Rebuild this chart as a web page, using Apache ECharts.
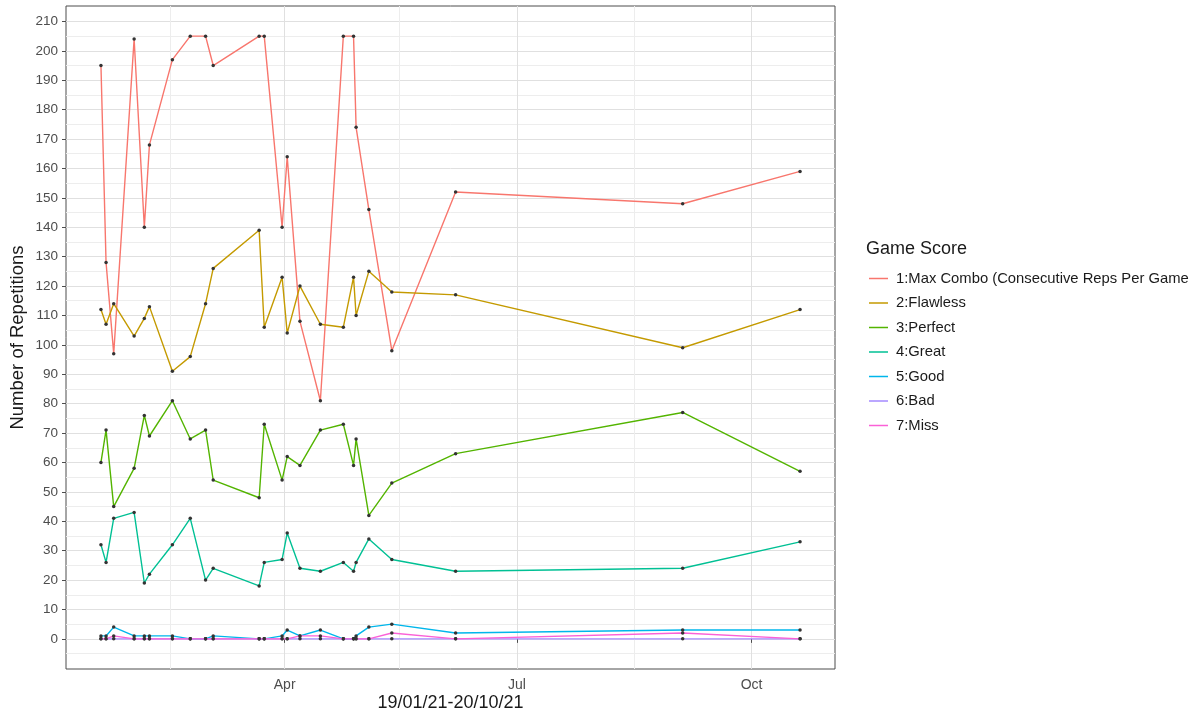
<!DOCTYPE html>
<html>
<head>
<meta charset="utf-8">
<script src="https://cdn.jsdelivr.net/npm/echarts@6/dist/echarts.min.js"></script>
<style>
  html, body { margin: 0; padding: 0; background: #ffffff; }
  #chart { width: 1198px; height: 715px; }
</style>
</head>
<body>
<div id="chart"></div>
<script>
// ---- data ----
const dates = ['2021-01-19','2021-01-21','2021-01-24','2021-02-01','2021-02-05','2021-02-07',
  '2021-02-16','2021-02-23','2021-03-01','2021-03-04','2021-03-22','2021-03-24','2021-03-31',
  '2021-04-02','2021-04-07','2021-04-15','2021-04-24','2021-04-28','2021-04-29','2021-05-04',
  '2021-05-13','2021-06-07','2021-09-04','2021-10-20'];
const maxCombo = [195,128,97,204,140,168,197,205,205,195,205,205,140,164,108,81,205,205,174,146,98,152,148,159];
const flawless = [112,107,114,103,109,113,91,96,114,126,139,106,123,104,120,107,106,123,110,125,118,117,99,112];
const perfect  = [60,71,45,58,76,69,81,68,71,54,48,73,54,62,59,71,73,59,68,42,53,63,77,57];
const great    = [32,26,41,43,19,22,32,41,20,24,18,26,27,36,24,23,26,23,26,34,27,23,24,33];
const good     = [1,1,4,1,1,1,1,0,0,1,0,0,1,3,1,3,0,0,1,4,5,2,3,3];
const bad      = [0,0,0,0,0,0,0,0,0,0,0,0,0,0,0,0,0,0,0,0,0,0,0,0];
const miss     = [0,0,1,0,0,0,0,0,0,0,0,0,0,0,1,1,0,0,0,0,2,0,2,0];
const seriesNames = ['1:Max Combo (Consecutive Reps Per Game','2:Flawless','3:Perfect','4:Great','5:Good','6:Bad','7:Miss'];
const seriesValues = [maxCombo, flawless, perfect, great, good, bad, miss];
const xTickDates  = ['2021-04-01','2021-07-01','2021-10-01'];
const xTickLabels = ['Apr','Jul','Oct'];
const xMinorDates = ['2021-02-15','2021-05-16','2021-08-16'];
const yTicks = [0,10,20,30,40,50,60,70,80,90,100,110,120,130,140,150,160,170,180,190,200,210];
const colors = ['#F8766D','#C49A00','#53B400','#00C094','#00B6EB','#A58AFF','#FB61D7'];

// ---- helpers ----
const DAY = 86400000;
function t(s) { const p = s.split('-').map(Number); return Date.UTC(p[0], p[1]-1, p[2]) / DAY; }
const times = dates.map(t);
const tMin = Math.min(...times), tMax = Math.max(...times);
const tPad = (tMax - tMin) * 0.05;
const allVals = seriesValues.flat();
const vMin = Math.min(...allVals), vMax = Math.max(...allVals);
const vPad = (vMax - vMin) * 0.05;
const xTickTimes = xTickDates.map(t);
const xMinorTimes = xMinorDates.map(t);
const yMinor = yTicks.map(v => v - 5);

const font = '"Liberation Sans", Arial, sans-serif';
const chart = echarts.init(document.getElementById('chart'), null, {renderer: 'canvas'});

const option = {
  animation: false,
  backgroundColor: '#ffffff',
  title: {
    text: 'Game Score',
    left: 861, top: 235,
    textStyle: { fontFamily: font, fontSize: 18, fontWeight: 'normal', color: '#1a1a1a' }
  },
  legend: {
    orient: 'vertical',
    left: 864, top: 266,
    icon: 'rect',
    itemWidth: 19, itemHeight: 1.5,
    itemGap: 9.5,
    selectedMode: false,
    textStyle: { fontFamily: font, fontSize: 14.8, color: '#1a1a1a', lineHeight: 15, padding: [0,0,0,3] },
    data: seriesNames.map((n, i) => ({ name: n, itemStyle: { color: colors[i] } }))
  },
  grid: {
    left: 66, right: 363, top: 6, bottom: 46,
    containLabel: false,
    outerBoundsMode: 'none',
    show: true, borderColor: '#4d4d4d', borderWidth: 1, backgroundColor: 'transparent'
  },
  xAxis: [{
    type: 'value',
    min: tMin - tPad, max: tMax + tPad,
    name: '19/01/21-20/10/21',
    nameLocation: 'middle', nameGap: 25, nameMoveOverlap: false,
    nameTextStyle: { fontFamily: font, fontSize: 18, color: '#1a1a1a' },
    axisLine: { show: false },
    axisTick: { show: true, length: 4, customValues: xTickTimes, lineStyle: { color: '#4d4d4d' } },
    axisLabel: {
      customValues: xTickTimes, margin: 9,
      fontFamily: font, fontSize: 14, color: '#4d4d4d',
      formatter: function (v) {
        let best = 0;
        xTickTimes.forEach((x, i) => { if (Math.abs(x - v) < Math.abs(xTickTimes[best] - v)) best = i; });
        return xTickLabels[best];
      }
    },
    splitLine: { show: true, lineStyle: { color: '#e0e0e0', width: 1 } }
  }, {
    type: 'value', position: 'top',
    min: tMin - tPad, max: tMax + tPad,
    axisLine: { show: false },
    axisTick: { show: false, customValues: xMinorTimes },
    axisLabel: { show: false, customValues: xMinorTimes },
    splitLine: { show: true, lineStyle: { color: '#ededed', width: 1 } }
  }],
  yAxis: [{
    type: 'value',
    min: vMin - vPad, max: vMax + vPad,
    name: 'Number of Repetitions',
    nameLocation: 'middle', nameGap: 39, nameRotate: 90, nameMoveOverlap: false,
    nameTextStyle: { fontFamily: font, fontSize: 18.5, color: '#1a1a1a' },
    axisLine: { show: false },
    axisTick: { show: true, length: 4, customValues: yTicks, lineStyle: { color: '#4d4d4d' } },
    axisLabel: { customValues: yTicks, margin: 8, fontFamily: font, fontSize: 13.5, color: '#4d4d4d' },
    splitLine: { show: true, lineStyle: { color: '#e0e0e0', width: 1 } }
  }, {
    type: 'value', position: 'right',
    min: vMin - vPad, max: vMax + vPad,
    axisLine: { show: false },
    axisTick: { show: false, customValues: yMinor },
    axisLabel: { show: false, customValues: yMinor },
    splitLine: { show: true, lineStyle: { color: '#ededed', width: 1 } }
  }],
  series: seriesNames.map((n, i) => ({
    name: n,
    type: 'line',
    xAxisIndex: 0, yAxisIndex: 0,
    data: times.map((tm, j) => [tm, seriesValues[i][j]]),
    showSymbol: true, showAllSymbol: true,
    symbol: 'circle', symbolSize: 3.5,
    itemStyle: { color: '#333333' },
    lineStyle: { color: colors[i], width: 1.4 },
    emphasis: { disabled: true },
    z: 2 + i
  }))
};
chart.setOption(option);
</script>
</body>
</html>
